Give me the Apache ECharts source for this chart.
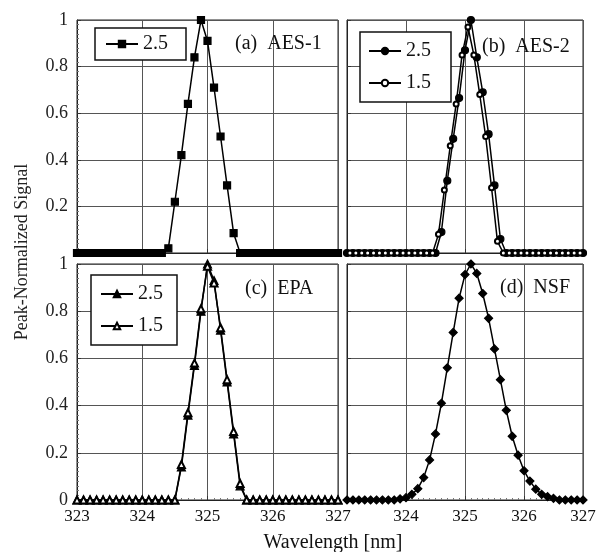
<!DOCTYPE html>
<html>
<head>
<meta charset="utf-8">
<script src="https://cdn.jsdelivr.net/npm/echarts@6/dist/echarts.min.js"></script>
<style>
html,body{margin:0;padding:0;background:#fff;}
#chart{width:600px;height:552px;}
</style>
</head>
<body>
<div id="chart"></div>
<script>
// Wavelength sampling grids [nm]
const WAVELENGTH = [323.0,323.1,323.2,323.3,323.4,323.5,323.6,323.7,323.8,323.9,
  324.0,324.1,324.2,324.3,324.4,324.5,324.6,324.7,324.8,324.9,
  325.0,325.1,325.2,325.3,325.4,325.5,325.6,325.7,325.8,325.9,
  326.0,326.1,326.2,326.3,326.4,326.5,326.6,326.7,326.8,326.9,327.0];
const WAVELENGTH_OFFSET = [323.05,323.15,323.25,323.35,323.45,323.55,323.65,323.75,323.85,323.95,
  324.05,324.15,324.25,324.35,324.45,324.55,324.65,324.75,324.85,324.95,
  325.05,325.15,325.25,325.35,325.45,325.55,325.65,325.75,325.85,325.95,
  326.05,326.15,326.25,326.35,326.45,326.55,326.65,326.75,326.85,326.95];

// (a) AES-1, 2.5
const AES1_25 = [0,0,0,0,0,0,0,0,0,0,0,0,0,0,
  0.02,0.22,0.42,0.64,0.84,1.0,0.91,0.71,0.50,0.29,0.085,
  0,0,0,0,0,0,0,0,0,0,0,0,0,0,0,0];
// (b) AES-2, 2.5 (on WAVELENGTH) and 1.5 (on WAVELENGTH_OFFSET)
const AES2_25 = [0,0,0,0,0,0,0,0,0,0,0,0,0,0,0,0,
  0.09,0.31,0.49,0.665,0.87,1.0,0.84,0.69,0.51,0.29,0.06,
  0,0,0,0,0,0,0,0,0,0,0,0,0,0];
const AES2_15 = [0,0,0,0,0,0,0,0,0,0,0,0,0,0,0,
  0.08,0.27,0.46,0.64,0.85,0.97,0.85,0.68,0.50,0.28,0.05,
  0,0,0,0,0,0,0,0,0,0,0,0,0,0];
// (c) EPA
const EPA_25 = [0,0,0,0,0,0,0,0,0,0,0,0,0,0,0,0,
  0.14,0.36,0.57,0.80,1.0,0.93,0.72,0.50,0.28,0.06,
  0,0,0,0,0,0,0,0,0,0,0,0,0,0,0];
const EPA_15 = [0,0,0,0,0,0,0,0,0,0,0,0,0,0,0,0,
  0.15,0.37,0.58,0.81,0.99,0.92,0.73,0.51,0.29,0.07,
  0,0,0,0,0,0,0,0,0,0,0,0,0,0,0];
// (d) NSF
const NSF = [0,0,0,0,0,0,0,0,0,
  0.005,0.01,0.024,0.048,0.095,0.17,0.28,0.41,0.56,0.71,0.855,
  0.955,1.0,0.96,0.875,0.77,0.64,0.51,0.38,0.27,0.19,
  0.124,0.08,0.046,0.024,0.014,0.007,
  0,0,0,0,0];

const X_TICKS = [323, 324, 325, 326, 327];
const Y_TICKS = [0, 0.2, 0.4, 0.6, 0.8, 1];
const PANEL_LABELS = ['(a)  AES-1', '(b)  AES-2', '(c)  EPA', '(d)  NSF'];
const X_NAME = 'Wavelength [nm]';
const Y_NAME = 'Peak-Normalized Signal';

const FONT = "'Liberation Serif','Times New Roman',serif";

function pairs(xs, ys) { return xs.map((x, i) => [x, ys[i]]); }

const grids = [
  {left: 77, top: 20, width: 261, height: 233},
  {left: 347, top: 20, width: 236, height: 233},
  {left: 77, top: 264, width: 261, height: 236},
  {left: 347, top: 264, width: 236, height: 236}
].map(g => Object.assign({show: true, borderColor: '#222', borderWidth: 1, backgroundColor: 'transparent'}, g));

const xAxes = [0,1,2,3].map(k => ({
  type: 'value', gridIndex: k, min: X_TICKS[0], max: X_TICKS[X_TICKS.length-1], interval: 1,
  axisLine: {show: true, lineStyle: {color: '#222', width: 1}},
  axisTick: {show: true, inside: true, length: 4, lineStyle: {color: '#333'}},
  minorTick: {show: k >= 2, splitNumber: 10, length: 2, lineStyle: {color: '#777'}},
  splitLine: {show: true, lineStyle: {color: '#555', width: 1}},
  axisLabel: {
    show: k >= 2, fontFamily: FONT, fontSize: 17, color: '#111', margin: 8,
    formatter: v => (k === 3 && v === 323) ? '' : String(v)
  }
}));

const yAxes = [0,1,2,3].map(k => ({
  type: 'value', gridIndex: k, min: Y_TICKS[0], max: Y_TICKS[Y_TICKS.length-1], interval: 0.2,
  axisLine: {show: true, lineStyle: {color: '#222', width: 1}},
  axisTick: {show: true, inside: true, length: 4, lineStyle: {color: '#333'}},
  minorTick: {show: k % 2 === 0, splitNumber: 10, length: 2, lineStyle: {color: '#777'}},
  splitLine: {show: true, lineStyle: {color: '#555', width: 1}},
  axisLabel: {
    show: k % 2 === 0, fontFamily: FONT, fontSize: 18, color: '#222', margin: 9,
    formatter: v => (k === 0 && v === 0) ? '' : String(Math.round(v * 10) / 10)
  }
}));

function lineSeries(name, k, xs, ys, symbol, size) {
  return {
    name: name, type: 'line', xAxisIndex: k, yAxisIndex: k,
    data: pairs(xs, ys), symbol: symbol, symbolSize: size,
    showAllSymbol: true, clip: false, animation: false,
    lineStyle: {color: '#000', width: 1.5},
    itemStyle: {color: '#000', borderColor: '#000', borderWidth: 1.2}
  };
}

const series = [
  lineSeries('a|2.5', 0, WAVELENGTH, AES1_25, 'rect', 7),
  lineSeries('b|2.5', 1, WAVELENGTH, AES2_25, 'circle', 7),
  lineSeries('b|1.5', 1, WAVELENGTH_OFFSET, AES2_15, 'emptyCircle', 5),
  lineSeries('c|2.5', 2, WAVELENGTH, EPA_25, 'triangle', 8),
  lineSeries('c|1.5', 2, WAVELENGTH, EPA_15, 'emptyTriangle', 7),
  lineSeries('d|NSF', 3, WAVELENGTH, NSF, 'diamond', 8)
];

const legendBase = {
  orient: 'vertical', borderColor: '#111', borderWidth: 1.5, backgroundColor: '#fff',
  itemWidth: 32, itemHeight: 8, itemGap: 12, selectedMode: false,
  formatter: n => n.split('|')[1],
  textStyle: {fontFamily: FONT, fontSize: 20, color: '#111'}
};

const legends = [
  Object.assign({}, legendBase, {data: ['a|2.5'], left: 95, top: 28, padding: [6, 18, 6, 10]}),
  Object.assign({}, legendBase, {data: ['b|2.5', 'b|1.5'], left: 360, top: 32, padding: [9, 20, 9, 8]}),
  Object.assign({}, legendBase, {data: ['c|2.5', 'c|1.5'], left: 91, top: 275, padding: [9, 14, 9, 9]})
];

const labelPos = [[235, 44], [482, 47], [245, 289], [500, 288]];
const graphics = PANEL_LABELS.map((t, i) => ({
  type: 'text', x: labelPos[i][0], y: labelPos[i][1], z: 10,
  style: {text: t, font: "20px " + FONT, fill: '#111', textAlign: 'left', textVerticalAlign: 'middle'}
}));
graphics.push({
  type: 'text', x: 333, y: 543, z: 10,
  style: {text: X_NAME, font: "20px " + FONT, fill: '#111', textAlign: 'center', textVerticalAlign: 'middle'}
});
graphics.push({
  type: 'text', x: 22, y: 252, rotation: Math.PI / 2, z: 10,
  style: {text: Y_NAME, font: "18px " + FONT, fill: '#222', textAlign: 'center', textVerticalAlign: 'middle'}
});

const chart = echarts.init(document.getElementById('chart'), null, {renderer: 'canvas'});
chart.setOption({
  animation: false,
  backgroundColor: '#fff',
  grid: grids, xAxis: xAxes, yAxis: yAxes,
  legend: legends, series: series, graphic: graphics
});
</script>
</body>
</html>
